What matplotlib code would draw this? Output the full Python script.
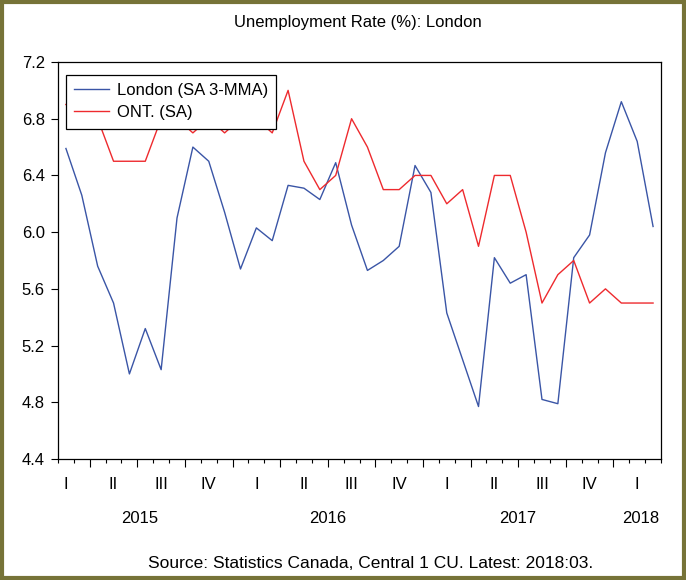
import matplotlib
matplotlib.use('Agg')
import matplotlib.pyplot as plt
from matplotlib.patches import Rectangle

plt.rcParams['font.family'] = ['Liberation Sans']

# monthly, Feb 2015 .. Mar 2018
london = [6.59, 6.26, 5.76, 5.50, 5.00, 5.32, 5.03, 6.10, 6.60, 6.50, 6.14,
          5.74, 6.03, 5.94, 6.33, 6.31, 6.23, 6.49, 6.05, 5.73, 5.80, 5.90,
          6.47, 6.28, 5.43, 5.10, 4.77, 5.82, 5.64, 5.70, 4.82, 4.79,
          5.82, 5.98, 6.56, 6.92, 6.64, 6.04]
ontario = [6.9, 6.8, 6.8, 6.5, 6.5, 6.5, 6.8, 6.8, 6.7, 6.8, 6.7,
           6.8, 6.8, 6.7, 7.0, 6.5, 6.3, 6.4, 6.8, 6.6, 6.3, 6.3,
           6.4, 6.4, 6.2, 6.3, 5.9, 6.4, 6.4, 6.0, 5.5, 5.7,
           5.8, 5.5, 5.6, 5.5, 5.5, 5.5]
quarter_labels = ['I', 'II', 'III', 'IV', 'I', 'II', 'III', 'IV',
                  'I', 'II', 'III', 'IV', 'I']
year_labels = ['2015', '2016', '2017', '2018']
year_pos = [4.65, 16.5, 28.5, 36.25]

x = list(range(len(london)))

fig = plt.figure(figsize=(6.86, 5.8), dpi=100)
ax = fig.add_axes([58/686, 1 - 459/580, 603/686, 397/580])

ax.plot(x, london, color='#3a55a6', lw=1.0, label='London (SA 3-MMA)')
ax.plot(x, ontario, color='#ee2a2e', lw=1.0, label='ONT. (SA)')

ax.set_xlim(-0.5, len(x) - 0.5)
ax.set_ylim(4.4, 7.2)
ax.set_yticks([4.4, 4.8, 5.2, 5.6, 6.0, 6.4, 6.8, 7.2])
ax.set_yticklabels(['4.4', '4.8', '5.2', '5.6', '6.0', '6.4', '6.8', '7.2'])
ax.tick_params(axis='y', direction='out', length=5, width=0.8, labelsize=12, pad=4.5)

# month ticks short, quarter ticks long
ax.set_xticks([i - 0.5 for i in range(len(x) + 1)], minor=True)
ax.set_xticks([1.5 + 3 * i for i in range(12)])
ax.set_xticklabels([])
ax.tick_params(axis='x', which='minor', direction='out', length=3, width=0.8)
ax.tick_params(axis='x', which='major', direction='out', length=6, width=0.8)

trans = ax.get_xaxis_transform()
for i, q in enumerate(quarter_labels):
    ax.text(3 * i, -0.063, q, transform=trans, ha='center', va='center', fontsize=12)
for yr, p in zip(year_labels, year_pos):
    ax.text(p, -0.149, yr, transform=trans, ha='center', va='center', fontsize=12)

for s in ax.spines.values():
    s.set_linewidth(0.9)

leg = ax.legend(loc='upper left', bbox_to_anchor=(8/603, 1 - 13/397), borderaxespad=0,
                fancybox=False, framealpha=1, edgecolor='black', fontsize=12,
                handlelength=2.1, handletextpad=0.45, borderpad=0.5, labelspacing=0.42)
leg.get_frame().set_linewidth(0.9)

fig.text(0.522, 1 - 22/580, 'Unemployment Rate (%): London', ha='center', va='center', fontsize=12)
fig.text(0.54, 1 - 563/580, 'Source: Statistics Canada, Central 1 CU. Latest: 2018:03.',
         ha='center', va='center', fontsize=12.5)

fig.patches.append(Rectangle((2/686, 2/580), 1 - 4/686, 1 - 4/580, transform=fig.transFigure,
                             fill=False, edgecolor='#767338', linewidth=3))

fig.savefig('out.png', dpi=100)
